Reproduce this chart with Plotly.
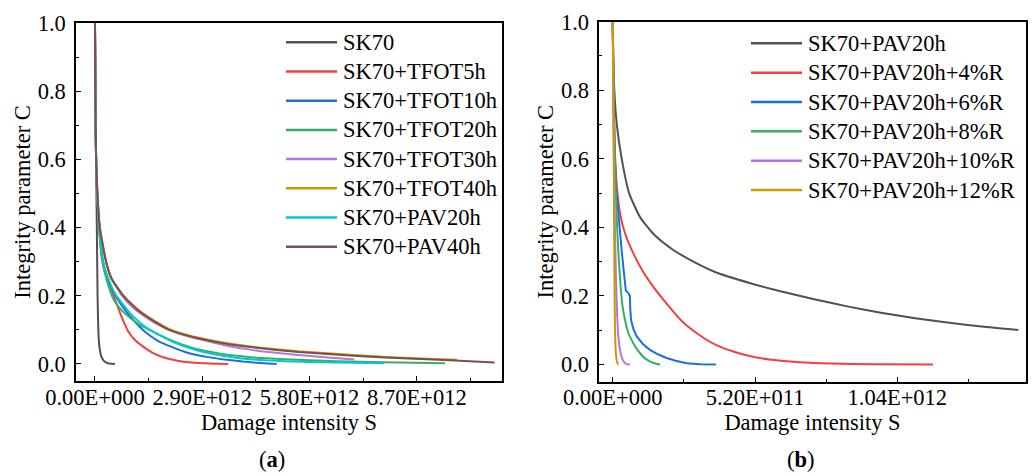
import plotly.graph_objects as go

# ---------------- Panel (a): Damage intensity S (x 1e12) vs integrity C ----------------
a_names = ["SK70", "SK70+TFOT5h", "SK70+TFOT10h", "SK70+TFOT20h",
           "SK70+TFOT30h", "SK70+TFOT40h", "SK70+PAV20h", "SK70+PAV40h"]

a_sk70_S = [0, 0.02, 0.05, 0.07, 0.09, 0.12, 0.18, 0.25, 0.35, 0.54]
a_sk70_C = [1.0, 0.7, 0.4, 0.2, 0.1, 0.05, 0.02, 0.008, 0.002, 0.0]

a_t5_S = [0, 0.01, 0.03, 0.06, 0.11, 0.2, 0.3, 0.41, 0.54, 0.72, 0.9, 1.1, 1.31, 1.55, 1.8,
          2.2, 2.6, 3.1, 3.6]
a_t5_C = [1.0, 0.8, 0.6, 0.5, 0.4, 0.3, 0.26, 0.228, 0.19, 0.138, 0.095, 0.068, 0.05, 0.033,
          0.021, 0.01, 0.004, 0.001, 0.0]

a_t10_S = [0, 0.01, 0.03, 0.06, 0.12, 0.22, 0.35, 0.48, 0.63, 0.8, 0.99, 1.2, 1.4, 1.7, 2.07,
           2.5, 3.06, 3.5, 4.0, 4.45, 4.91]
a_t10_C = [1.0, 0.8, 0.6, 0.5, 0.4, 0.3, 0.25, 0.215, 0.187, 0.16, 0.135, 0.11, 0.09, 0.068,
           0.05, 0.033, 0.02, 0.013, 0.007, 0.003, 0.0]

a_t20_S = [0, 0.01, 0.03, 0.06, 0.11, 0.2, 0.32, 0.5, 0.7, 0.92, 1.25, 1.67, 2.15, 2.66, 3.4,
           4.2, 5.13, 6.5, 7.8, 9.46]
a_t20_C = [1.0, 0.8, 0.6, 0.5, 0.4, 0.3, 0.245, 0.19, 0.16, 0.138, 0.112, 0.089, 0.065, 0.046,
           0.03, 0.02, 0.014, 0.008, 0.005, 0.002]

a_t30_S = [0, 0.01, 0.03, 0.065, 0.13, 0.3, 0.45, 0.73, 0.95, 1.2, 1.55, 2.0, 2.4, 2.84, 3.5,
           4.19, 5.5, 6.3, 7.01]
a_t30_C = [1.0, 0.8, 0.6, 0.5, 0.4, 0.3, 0.25, 0.2, 0.173, 0.15, 0.125, 0.1, 0.085, 0.072,
           0.055, 0.042, 0.026, 0.019, 0.013]

a_t40_S = [0, 0.01, 0.03, 0.065, 0.13, 0.3, 0.45, 0.77, 1.0, 1.25, 1.6, 2.0, 2.4, 2.84, 3.5,
           4.3, 5.5, 6.89, 8.0, 9.0, 9.78]
a_t40_C = [1.0, 0.8, 0.6, 0.5, 0.4, 0.3, 0.25, 0.2, 0.175, 0.152, 0.127, 0.103, 0.088, 0.076,
           0.062, 0.05, 0.037, 0.027, 0.02, 0.015, 0.012]

a_p20_S = [0, 0.01, 0.03, 0.06, 0.12, 0.22, 0.36, 0.55, 0.72, 0.88, 1.05, 1.35, 1.67, 2.15,
           2.66, 3.4, 4.2, 5.13, 6.5, 7.81]
a_p20_C = [1.0, 0.8, 0.6, 0.5, 0.4, 0.3, 0.25, 0.205, 0.18, 0.158, 0.138, 0.11, 0.089, 0.063,
           0.043, 0.025, 0.014, 0.008, 0.004, 0.002]

a_p40_S = [0, 0.01, 0.03, 0.065, 0.13, 0.3, 0.45, 0.77, 1.0, 1.25, 1.6, 2.0, 2.4, 2.84, 3.5,
           4.3, 5.5, 6.89, 8.0, 9.59, 10.8]
a_p40_C = [1.0, 0.8, 0.6, 0.5, 0.4, 0.3, 0.25, 0.2, 0.174, 0.15, 0.125, 0.1, 0.086, 0.074,
           0.06, 0.048, 0.035, 0.025, 0.018, 0.011, 0.004]

a_S = [a_sk70_S, a_t5_S, a_t10_S, a_t20_S, a_t30_S, a_t40_S, a_p20_S, a_p40_S]
a_C = [a_sk70_C, a_t5_C, a_t10_C, a_t20_C, a_t30_C, a_t40_C, a_p20_C, a_p40_C]
a_scale = 1e12
a_tickvals = [0, 2.9e12, 5.8e12, 8.7e12]
a_ticktext = ["0.00E+000", "2.90E+012", "5.80E+012", "8.70E+012"]
a_minor = [1.45e12, 4.35e12, 7.25e12, 10.15e12]

# ---------------- Panel (b): Damage intensity S (x 1e11) vs integrity C ----------------
b_names = ["SK70+PAV20h", "SK70+PAV20h+4%R", "SK70+PAV20h+6%R",
           "SK70+PAV20h+8%R", "SK70+PAV20h+10%R", "SK70+PAV20h+12%R"]

b_r0_S = [0, 0.02, 0.06, 0.15, 0.33, 0.6, 1.0, 1.5, 2.2, 3.0, 3.74, 5.0, 6.17, 7.4, 8.61,
          9.8, 11.05, 12.3, 13.48, 14.82]
b_r0_C = [1.0, 0.9, 0.8, 0.7, 0.6, 0.5, 0.43, 0.38, 0.335, 0.298, 0.27, 0.238, 0.213, 0.19,
          0.169, 0.151, 0.135, 0.122, 0.111, 0.101]

b_r4_S = [0, 0.03, 0.08, 0.15, 0.27, 0.45, 0.75, 1.1, 1.5, 2.0, 2.55, 3.1, 3.75, 4.4,
          5.0, 5.8, 6.8, 8.0, 9.5, 11.7]
b_r4_C = [1.0, 0.8, 0.62, 0.52, 0.44, 0.383, 0.325, 0.272, 0.225, 0.175, 0.125, 0.09, 0.058,
          0.038, 0.025, 0.014, 0.007, 0.003, 0.001, 0.0]

b_r6_S = [0, 0.02, 0.06, 0.12, 0.22, 0.33, 0.42, 0.48, 0.56, 0.63, 0.64, 0.67, 0.75, 0.88,
          1.1, 1.36, 1.65, 1.97, 2.3, 2.7, 3.2, 3.77]
b_r6_C = [1.0, 0.85, 0.65, 0.52, 0.42, 0.33, 0.26, 0.215, 0.21, 0.2, 0.165, 0.13, 0.105,
          0.082, 0.06, 0.043, 0.03, 0.019, 0.011, 0.004, 0.001, 0.0]

b_r8_S = [0, 0.03, 0.08, 0.15, 0.22, 0.29, 0.36, 0.45, 0.56, 0.69, 0.84, 1.0, 1.18, 1.36,
          1.55, 1.73]
b_r8_C = [1.0, 0.8, 0.6, 0.42, 0.31, 0.227, 0.17, 0.13, 0.095, 0.072, 0.05, 0.033, 0.018,
          0.009, 0.003, 0.0]

b_r10_S = [0, 0.03, 0.07, 0.12, 0.17, 0.22, 0.29, 0.36, 0.45, 0.54, 0.63]
b_r10_C = [1.0, 0.7, 0.45, 0.25, 0.13, 0.07, 0.033, 0.015, 0.004, 0.001, 0.0]

b_r12_S = [0, 0.02, 0.04, 0.06, 0.08, 0.11, 0.15, 0.2]
b_r12_C = [1.0, 0.8, 0.55, 0.3, 0.12, 0.04, 0.01, 0.0]

b_S = [b_r0_S, b_r4_S, b_r6_S, b_r8_S, b_r10_S, b_r12_S]
b_C = [b_r0_C, b_r4_C, b_r6_C, b_r8_C, b_r10_C, b_r12_C]
b_scale = 1e11
b_tickvals = [0, 5.2e11, 1.04e12]
b_ticktext = ["0.00E+000", "5.20E+011", "1.04E+012"]
b_minor = [2.6e11, 7.8e11, 1.3e12]

y_tickvals = [0.0, 0.2, 0.4, 0.6, 0.8, 1.0]
y_minor = [0.1, 0.3, 0.5, 0.7, 0.9]

colors = ["#515151", "#F14040", "#1A6FDF", "#37AD6B", "#B177DE", "#CC9900", "#00CBCC", "#7D4E4E"]

FONT = "Liberation Serif, Times New Roman, serif"
FS = 22.5

fig = go.Figure()
for i, name in enumerate(a_names):
    fig.add_trace(go.Scatter(
        x=[v * a_scale for v in a_S[i]], y=a_C[i], mode="lines", name=name,
        line=dict(color=colors[i], width=2, shape="spline", smoothing=0.5),
        xaxis="x", yaxis="y", showlegend=False))
for i, name in enumerate(b_names):
    shape = "linear" if i == 2 else "spline"
    fig.add_trace(go.Scatter(
        x=[v * b_scale for v in b_S[i]], y=b_C[i], mode="lines", name=name,
        line=dict(color=colors[i], width=2, shape=shape, smoothing=0.6),
        xaxis="x2", yaxis="y2", showlegend=False))

W, H = 1035, 476
def px_x(p): return p / W
def px_y(p): return 1 - p / H

axis_common = dict(showline=True, linecolor="black", linewidth=1.5, mirror=True,
                   ticks="inside", ticklen=5, tickwidth=1.3, tickcolor="black",
                   showgrid=False, zeroline=False, automargin=False,
                   tickfont=dict(family=FONT, size=FS, color="black"),
                   title_font=dict(family=FONT, size=FS, color="black"))

minor_common = dict(ticks="inside", ticklen=3, tickwidth=1.3, tickcolor="black",
                    tickmode="array")

# Legend drawn as line samples + text, in figure pixel positions
shapes = []
annotations = []
def add_legend(names, x0, x1, xt, ytop, step):
    for i, name in enumerate(names):
        yy = ytop + i * step
        shapes.append(dict(type="line", xref="paper", yref="paper",
                           x0=px_x(x0), x1=px_x(x1), y0=px_y(yy), y1=px_y(yy),
                           line=dict(color=colors[i], width=2.5)))
        annotations.append(dict(text=name, x=px_x(xt), y=px_y(yy), xref="paper", yref="paper",
                                xanchor="left", yanchor="middle", showarrow=False,
                                font=dict(family=FONT, size=FS, color="black")))

add_legend(a_names, 286, 337, 341, 42.3, 29.2)
add_legend(b_names, 751, 802, 806, 43.3, 29.35)

annotations.append(dict(text="(<b>a</b>)", x=px_x(257), y=px_y(459), xref="paper", yref="paper",
                        showarrow=False, yanchor="middle",
                        font=dict(family=FONT, size=FS, color="black")))
annotations.append(dict(text="(<b>b</b>)", x=px_x(817), y=px_y(459), xref="paper", yref="paper",
                        showarrow=False, yanchor="middle",
                        font=dict(family=FONT, size=FS, color="black")))

fig.update_layout(
    width=W, height=H, paper_bgcolor="white", plot_bgcolor="white",
    margin=dict(l=0, r=0, t=0, b=0, autoexpand=False),
    font=dict(family=FONT, size=FS, color="black"),
    showlegend=False,
    xaxis=dict(axis_common, domain=[px_x(76), px_x(502)], anchor="y",
               range=[-0.513e12, 11.0e12], tickmode="array",
               tickvals=a_tickvals, ticktext=a_ticktext,
               minor=dict(minor_common, tickvals=a_minor),
               ticklabelstandoff=-5,
               title=dict(text="Damage intensity S", standoff=0)),
    yaxis=dict(axis_common, domain=[px_y(381), px_y(23)], anchor="x",
               range=[-0.05, 1.0], tickmode="array", tickvals=y_tickvals,
               ticktext=["%.1f" % v for v in y_tickvals],
               minor=dict(minor_common, tickvals=y_minor),
               ticklabelstandoff=4,
               title=dict(text="Integrity parameter C", standoff=1)),
    xaxis2=dict(axis_common, domain=[px_x(599.3), px_x(1025.7)], anchor="y2",
                range=[-0.49e11, 1.509e12], tickmode="array",
                tickvals=b_tickvals, ticktext=b_ticktext,
                minor=dict(minor_common, tickvals=b_minor),
                ticklabelstandoff=-5,
                title=dict(text="Damage intensity S", standoff=0)),
    yaxis2=dict(axis_common, domain=[px_y(381.7), px_y(21.7)], anchor="x2",
                range=[-0.05, 1.0], tickmode="array", tickvals=y_tickvals,
                ticktext=["%.1f" % v for v in y_tickvals],
                minor=dict(minor_common, tickvals=y_minor),
                ticklabelstandoff=4,
                title=dict(text="Integrity parameter C", standoff=1)),
    shapes=shapes,
    annotations=annotations,
)

fig.write_html("out.html", config={"displayModeBar": False},
               post_script="document.body.style.margin='0';")
